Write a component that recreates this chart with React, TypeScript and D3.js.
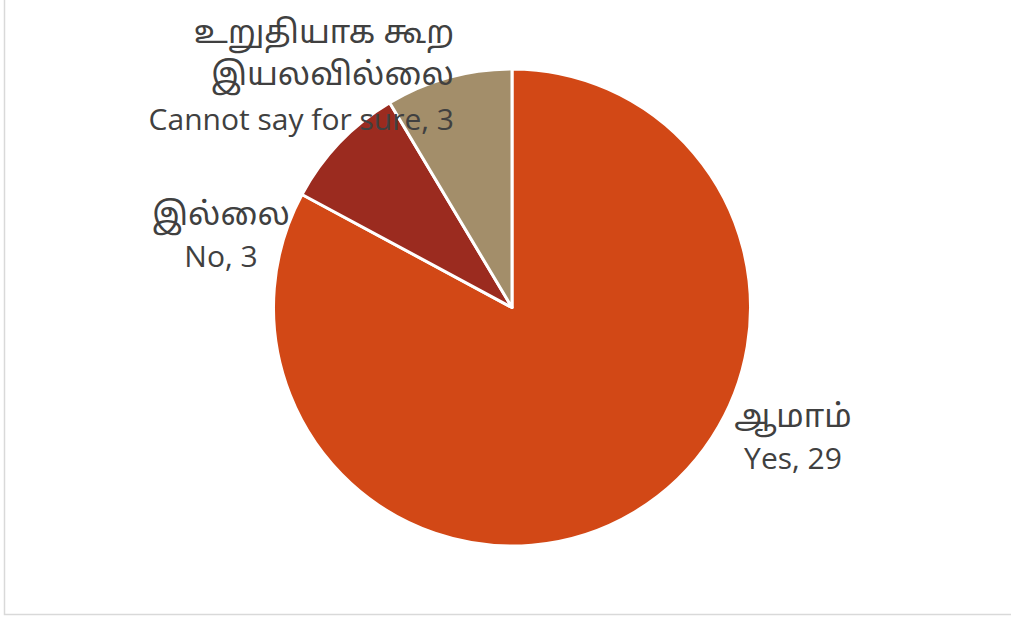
import React from "react";
import * as d3 from "d3";

const categories = ["Yes", "No", "Cannot say for sure"];
const tamilLabels = [["ஆமாம்"], ["இல்லை"], ["உறுதியாக கூற", "இயலவில்லை"]];
const values = [29, 3, 3];
const colors = ["#D24816", "#9B2B1F", "#A38E6A"];

const W = 1011;
const H = 617;
const cx = 512;
const cy = 307.5;
const R = 238.5;
const FONT = "'Open Sans', 'Noto Sans', 'Noto Sans Tamil', sans-serif";
const FS_LATIN = 30;
const FS_TAMIL = 32;

export default function App() {
  const pie = d3.pie<number>().sort(null).value((d) => d)(values);
  const arc = d3.arc<d3.PieArcDatum<number>>().innerRadius(0).outerRadius(R);

  const labelPos = [
    { x: 793, y: 427, anchor: "middle" },
    { x: 221, y: 225, anchor: "middle" },
    { x: 454, y: 43, anchor: "end" },
  ];

  return (
    <svg width={W} height={H} style={{ position: "absolute", left: 0, top: 0 }}>
      <rect x={0} y={0} width={W} height={H} fill="#fff" />
      <rect x={4.5} y={-10} width={W + 20} height={624.5} fill="#fff" stroke="#d9d9d9" strokeWidth={1.5} />
      <g transform={`translate(${cx},${cy})`}>
        {pie.map((p, i) => (
          <path key={i} d={arc(p) || ""} fill={colors[i]} stroke="#fff" strokeWidth={3} strokeLinejoin="round" />
        ))}
      </g>
      {pie.map((p, i) => {
        const lp = labelPos[i];
        const lines = [...tamilLabels[i], `${categories[i]}, ${values[i]}`];
        const gap = i === 2 ? 42 : 39;
        return (
          <text key={i} x={lp.x} y={lp.y} textAnchor={lp.anchor} fontFamily={FONT} fill="#404040">
            {lines.map((l, j) => {
              const last = j === lines.length - 1;
              return (
                <tspan key={j} x={lp.x} dy={j === 0 ? 0 : gap + (last ? 3 : 0)} fontSize={last ? FS_LATIN : FS_TAMIL}>
                  {l}
                </tspan>
              );
            })}
          </text>
        );
      })}
    </svg>
  );
}
